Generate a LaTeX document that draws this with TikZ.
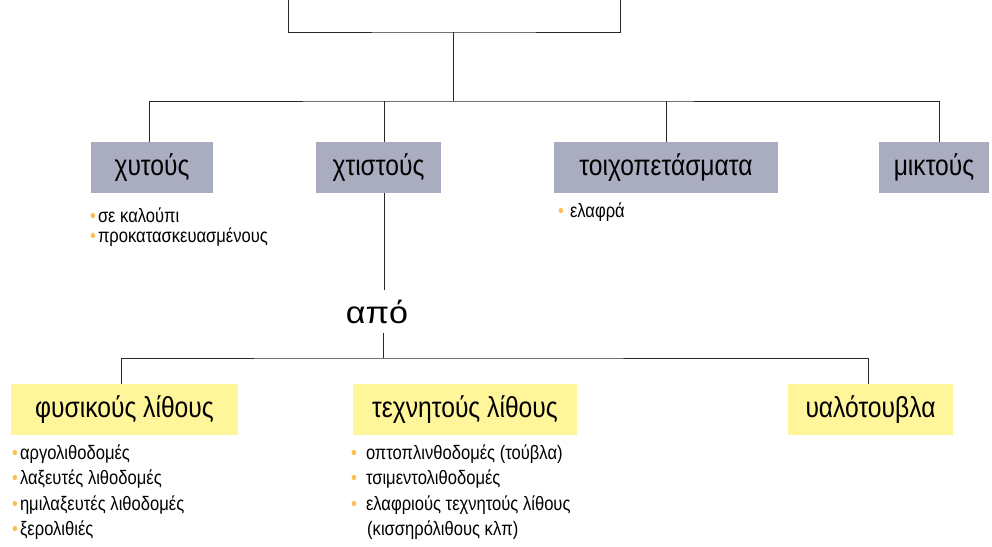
\documentclass[tikz,border=0pt]{standalone}
\usepackage{fontspec}
\setmainfont{Liberation Sans}[FakeStretch=0.85]
\newfontfamily\apofont{Liberation Sans}[FakeStretch=1.1]
\usetikzlibrary{positioning}

\definecolor{greybox}{RGB}{170,173,192}
\definecolor{yellowbox}{RGB}{255,245,154}
\definecolor{dotcol}{RGB}{255,190,80}
\definecolor{linecol}{RGB}{40,40,40}
\newcommand{\bul}[1][4pt]{{\color{dotcol}\textbullet}\hspace{#1}}

\begin{document}
\begin{tikzpicture}[x=1pt,y=-1pt,
  greybox/.style={fill=greybox, minimum height=51pt, inner sep=0pt,
    font=\fontsize{29}{32}\selectfont},
  yellowbox/.style={fill=yellowbox, minimum height=51pt, inner sep=0pt,
    font=\fontsize{29}{32}\selectfont},
  item/.style={anchor=base west, inner sep=0pt, font=\fontsize{19.5}{22}\selectfont},
  conn/.style={draw=linecol, line width=1pt}]
\useasboundingbox (0,0) rectangle (992,546);

% first row
\node[greybox, minimum width=122pt] (xytous) at (152,167.5) {χυτούς};
\node[greybox, minimum width=125pt] (xtistous) at (378.5,167.5) {χτιστούς};
\node[greybox, minimum width=224pt] (toixo) at (666,167.5) {τοιχοπετάσματα};
\node[greybox, minimum width=110pt] (miktous) at (934,167.5) {μικτούς};

% top bracket
\coordinate (topL) at (288,0);
\coordinate (topR) at (620,0);
\coordinate (topM) at (453,32);
\coordinate (bus) at (453,101);
\draw[conn] (topL) |- (topM) -| (topR);
\draw[conn] (topM) -- (bus);
\draw[conn] ([xshift=-3pt]xytous.north) |- (bus) -| ([xshift=5pt]miktous.north);
\draw[conn] ([xshift=5.5pt]xtistous.north) -- ([xshift=5.5pt]xtistous.north |- bus);
\draw[conn] (toixo.north) -- (toixo.north |- bus);

% από
\node[inner sep=0pt, minimum height=43pt, font=\apofont\fontsize{31}{33}\selectfont]
  (apo) at (377,311.5) {από};
\coordinate (bus2) at (383.5,358);
\draw[conn] ([xshift=5.5pt]xtistous.south) -- ([xshift=5.5pt]xtistous.south |- apo.north);
\draw[conn] (bus2 |- apo.south) -- (bus2);

% second row
\node[yellowbox, minimum width=227pt] (fysikous) at (124.5,409.5) {φυσικούς λίθους};
\node[yellowbox, minimum width=224pt] (texnitous) at (465,409.5) {τεχνητούς λίθους};
\node[yellowbox, minimum width=165pt] (yalo) at (870.5,409.5) {υαλότουβλα};
\draw[conn] ([xshift=-3.5pt]fysikous.north) |- (bus2) -| ([xshift=-2.5pt]yalo.north);

% lists
\foreach \t [count=\i from 0] in {σε καλούπι, προκατασκευασμένους}
  \node[item] (xy\i) at (90,222+20*\i) {\bul[2pt]\t};
\node[item] (toixo0) at (558,217) {\bul[6pt]ελαφρά};
\foreach \t [count=\i from 0] in {αργολιθοδομές, λαξευτές λιθοδομές, ημιλαξευτές λιθοδομές, ξερολιθιές}
  \node[item] (fys\i) at (12,459+25.5*\i) {\bul[2pt]\t};
\foreach \t [count=\i from 0] in {οπτοπλινθοδομές (τούβλα), τσιμεντολιθοδομές, ελαφριούς τεχνητούς λίθους}
  \node[item] (tex\i) at (351,459+25.5*\i) {\bul[9pt]\t};
\node[item] (tex3) at (367,535.5) {(κισσηρόλιθους κλπ)};
\end{tikzpicture}
\end{document}
